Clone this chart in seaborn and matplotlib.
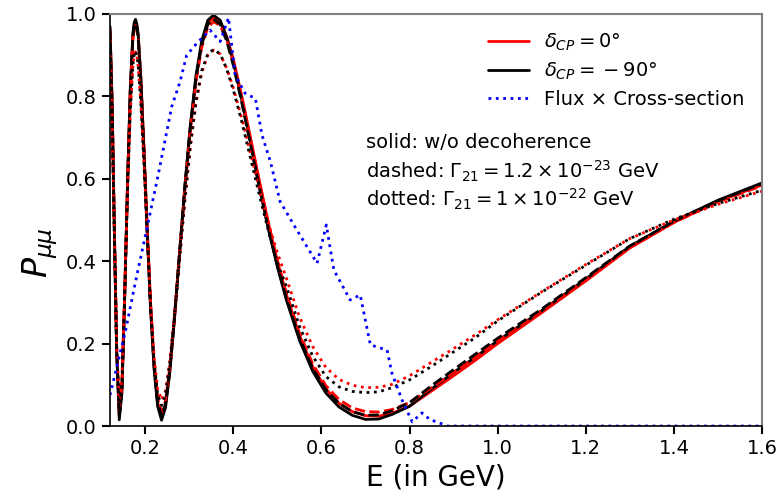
import matplotlib
matplotlib.use('Agg')
import matplotlib.pyplot as plt
import seaborn as sns

# energies (GeV) at which the oscillation curves were read
E = [0.120, 0.125, 0.130, 0.135, 0.141, 0.147, 0.153, 0.160, 0.166, 0.172,
     0.175, 0.178, 0.181, 0.184, 0.190, 0.197, 0.204, 0.212, 0.220, 0.228,
     0.237, 0.246, 0.256, 0.266, 0.278, 0.290, 0.302, 0.315, 0.328, 0.342,
     0.355, 0.370, 0.385, 0.400, 0.420, 0.440, 0.460, 0.480, 0.500, 0.520,
     0.550, 0.580, 0.610, 0.640, 0.670, 0.700, 0.730, 0.760, 0.800, 0.850,
     0.900, 0.950, 1.000, 1.100, 1.200, 1.300, 1.400, 1.500, 1.600]

# delta_CP = 0 (red)
red_solid = [0.965, 0.775, 0.470, 0.190, 0.025, 0.088, 0.305, 0.600, 0.815, 0.948,
             0.975, 0.982, 0.970, 0.948, 0.845, 0.675, 0.490, 0.295, 0.148, 0.058,
             0.024, 0.052, 0.138, 0.258, 0.420, 0.578, 0.720, 0.842, 0.927, 0.978,
             0.991, 0.982, 0.945, 0.890, 0.797, 0.694, 0.590, 0.490, 0.400, 0.320,
             0.220, 0.144, 0.090, 0.055, 0.035, 0.025, 0.024, 0.031, 0.048, 0.085,
             0.122, 0.160, 0.200, 0.275, 0.352, 0.432, 0.494, 0.545, 0.585]
red_dashed = [0.956, 0.770, 0.471, 0.196, 0.035, 0.096, 0.309, 0.598, 0.809, 0.939,
              0.965, 0.972, 0.960, 0.939, 0.838, 0.672, 0.490, 0.299, 0.155, 0.067,
              0.034, 0.061, 0.145, 0.263, 0.422, 0.576, 0.716, 0.835, 0.918, 0.968,
              0.981, 0.972, 0.936, 0.882, 0.791, 0.690, 0.588, 0.490, 0.402, 0.324,
              0.226, 0.151, 0.098, 0.064, 0.044, 0.035, 0.034, 0.040, 0.057, 0.093,
              0.130, 0.167, 0.206, 0.280, 0.355, 0.433, 0.494, 0.544, 0.583]
red_dotted = [0.885, 0.720, 0.462, 0.200, 0.055, 0.118, 0.315, 0.578, 0.760, 0.873,
              0.902, 0.908, 0.898, 0.872, 0.785, 0.640, 0.482, 0.298, 0.168, 0.090,
              0.063, 0.085, 0.160, 0.265, 0.408, 0.548, 0.673, 0.782, 0.857, 0.900,
              0.912, 0.903, 0.868, 0.820, 0.743, 0.657, 0.570, 0.490, 0.420, 0.360,
              0.265, 0.193, 0.142, 0.113, 0.099, 0.093, 0.094, 0.101, 0.122, 0.155,
              0.188, 0.222, 0.258, 0.326, 0.392, 0.455, 0.500, 0.538, 0.570]

# delta_CP = -90 (black)
black_solid = [0.970, 0.770, 0.460, 0.180, 0.015, 0.080, 0.300, 0.600, 0.820, 0.955,
               0.980, 0.987, 0.975, 0.950, 0.842, 0.668, 0.480, 0.285, 0.138, 0.048,
               0.014, 0.045, 0.133, 0.256, 0.422, 0.584, 0.727, 0.850, 0.934, 0.985,
               0.997, 0.985, 0.943, 0.883, 0.786, 0.681, 0.576, 0.476, 0.386, 0.307,
               0.208, 0.133, 0.080, 0.046, 0.026, 0.016, 0.017, 0.028, 0.048, 0.090,
               0.130, 0.168, 0.207, 0.280, 0.357, 0.436, 0.497, 0.548, 0.590]
black_dashed = [0.960, 0.765, 0.461, 0.186, 0.025, 0.088, 0.304, 0.598, 0.814, 0.946,
                0.970, 0.977, 0.965, 0.941, 0.835, 0.665, 0.480, 0.289, 0.145, 0.057,
                0.024, 0.054, 0.140, 0.261, 0.424, 0.582, 0.722, 0.843, 0.925, 0.975,
                0.987, 0.975, 0.934, 0.875, 0.780, 0.677, 0.574, 0.476, 0.388, 0.311,
                0.214, 0.140, 0.088, 0.055, 0.035, 0.026, 0.027, 0.037, 0.057, 0.098,
                0.137, 0.175, 0.213, 0.284, 0.360, 0.437, 0.497, 0.547, 0.588]
black_dotted = [0.890, 0.721, 0.458, 0.190, 0.045, 0.110, 0.310, 0.577, 0.763, 0.878,
                0.904, 0.910, 0.900, 0.874, 0.782, 0.634, 0.475, 0.287, 0.157, 0.077,
                0.050, 0.075, 0.153, 0.262, 0.408, 0.552, 0.678, 0.787, 0.862, 0.903,
                0.914, 0.903, 0.866, 0.815, 0.735, 0.645, 0.556, 0.472, 0.395, 0.340,
                0.242, 0.170, 0.120, 0.095, 0.084, 0.081, 0.083, 0.093, 0.112, 0.145,
                0.180, 0.215, 0.255, 0.325, 0.390, 0.455, 0.502, 0.540, 0.572]

# flux x cross-section (arbitrary normalisation)
flux_E = [0.120, 0.139, 0.154, 0.177, 0.203, 0.230, 0.260, 0.279, 0.294, 0.317,
          0.347, 0.370, 0.389, 0.404, 0.427, 0.450, 0.465, 0.484, 0.506, 0.544,
          0.590, 0.611, 0.628, 0.665, 0.688, 0.711, 0.749, 0.760, 0.783, 0.806,
          0.828, 0.847, 0.862, 0.885, 1.000, 1.200, 1.400, 1.600]
flux_xsec = [0.075, 0.160, 0.225, 0.346, 0.476, 0.613, 0.775, 0.836, 0.900, 0.929,
             0.961, 0.933, 0.991, 0.852, 0.807, 0.795, 0.706, 0.642, 0.545, 0.476,
             0.395, 0.488, 0.379, 0.306, 0.318, 0.197, 0.184, 0.128, 0.063, 0.010,
             0.032, 0.015, 0.010, 0.000, 0.000, 0.000, 0.000, 0.000]

sns.set_style('ticks')
plt.rcParams['font.family'] = ['DejaVu Sans']
plt.rcParams['mathtext.fontset'] = 'dejavusans'
plt.rcParams['text.color'] = 'black'
plt.rcParams['axes.labelcolor'] = 'black'
plt.rcParams['xtick.color'] = 'black'
plt.rcParams['ytick.color'] = 'black'

fig = plt.figure(figsize=(7.82, 4.96), dpi=100)
ax = fig.add_axes([0.1407, 0.1411, 0.8337, 0.8307])

lw = 2
sns.lineplot(x=E, y=red_solid, color='red', lw=lw, ax=ax, sort=False)
sns.lineplot(x=E, y=black_solid, color='black', lw=lw, ax=ax, sort=False)
sns.lineplot(x=E, y=red_dashed, color='red', lw=lw, ls='--', ax=ax, sort=False)
sns.lineplot(x=E, y=black_dashed, color='black', lw=lw, ls='--', ax=ax, sort=False)
sns.lineplot(x=E, y=red_dotted, color='red', lw=lw, ls=':', ax=ax, sort=False)
sns.lineplot(x=E, y=black_dotted, color='black', lw=lw, ls=':', ax=ax, sort=False)
sns.lineplot(x=flux_E, y=flux_xsec, color='blue', lw=lw, ls=':', ax=ax, sort=False)

lines = ax.get_lines()
ax.legend([lines[0], lines[1], lines[6]],
          [r'$\delta_{CP} = 0°$', r'$\delta_{CP} = \:-\:90°$', 'Flux × Cross-section'],
          loc='upper right', frameon=False, fontsize=14,
          labelspacing=0.4, handlelength=2.1, handletextpad=0.8)

ax.text(0.70, 0.687, 'solid: w/o decoherence', fontsize=14, va='center')
ax.text(0.70, 0.617, r'dashed: $\Gamma_{21} = 1.2\times10^{-23}$ GeV', fontsize=14, va='center')
ax.text(0.70, 0.549, r'dotted: $\Gamma_{21} = 1\times10^{-22}$ GeV', fontsize=14, va='center')

ax.set_xlim(0.12, 1.6)
ax.set_ylim(0, 1.0)
ax.set_xticks([0.2, 0.4, 0.6, 0.8, 1.0, 1.2, 1.4, 1.6])
ax.set_yticks([0.0, 0.2, 0.4, 0.6, 0.8, 1.0])
ax.set_xlabel('E (in GeV)', fontsize=20)
ax.set_ylabel(r'$P_{\mu\mu}$', fontsize=24, y=0.42)
ax.tick_params(labelsize=14, direction='out', length=6, width=1.5, color='black')

for side in ['left', 'bottom']:
    ax.spines[side].set_color('black')
    ax.spines[side].set_linewidth(1.2)
for side in ['top', 'right']:
    ax.spines[side].set_color('#808080')
    ax.spines[side].set_linewidth(1.5)

fig.savefig('out.png', dpi=100)
